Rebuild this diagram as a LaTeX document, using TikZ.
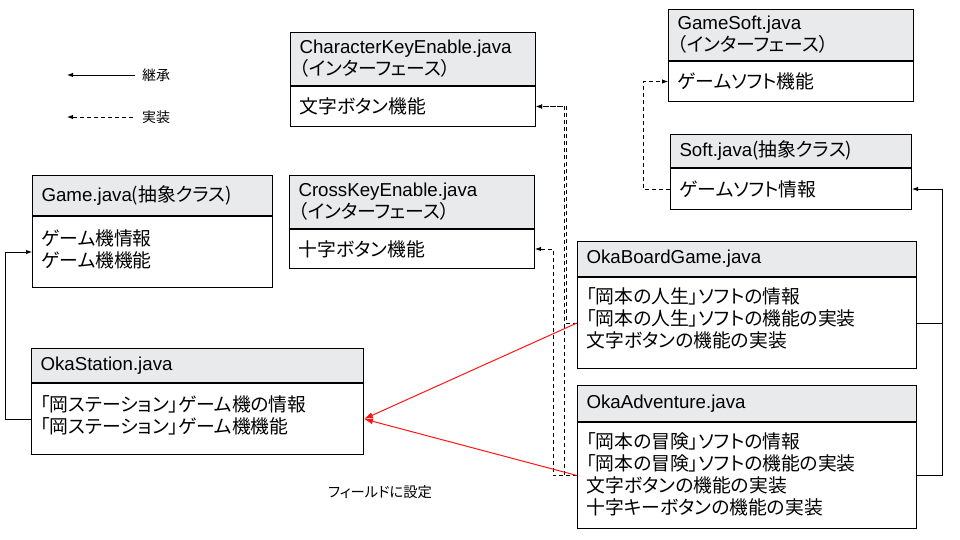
\documentclass[tikz,border=0pt]{standalone}
\usepackage{fontspec}
\setmainfont{Noto Sans CJK JP}[RawFeature={+palt}]
\newfontfamily\lat{Liberation Sans}[Scale=0.995]
\usetikzlibrary{arrows.meta}
\definecolor{hdrgray}{RGB}{232,234,235}
\definecolor{fieldred}{RGB}{255,20,20}
\begin{document}
\begin{tikzpicture}[x=1pt,y=-1pt,
  every node/.style={font=\fontsize{18.8pt}{22pt}\selectfont},
  hdr/.style={draw=black, line width=1pt, fill=hdrgray, anchor=north west, inner xsep=9pt, inner ysep=0pt, align=left},
  bdy/.style={draw=black, line width=1pt, fill=white, anchor=north west, inner xsep=9pt, inner ysep=0pt, align=left},
  inh/.style={draw=black, line width=0.9pt, -{Latex[length=6pt,width=4.5pt]}},
  impl/.style={inh, dash pattern=on 4pt off 3pt},
  field/.style={draw=fieldred, line width=1pt, -{Latex[length=9pt,width=6pt]}},
  legendtxt/.style={anchor=west, inner sep=0pt, font=\fontsize{14pt}{16pt}\selectfont},
  fieldtxt/.style={inner sep=0pt, font=\fontsize{14.3pt}{16pt}\selectfont}
]
\useasboundingbox (0,0) rectangle (960,540);

% Legend
\coordinate (l1s) at (135,75);
\coordinate (l1e) at (67,75);
\node[legendtxt] (l1) at (142,75) {継承};
\draw[inh] (l1s) -- (l1e);
\coordinate (l2s) at (133,117);
\coordinate (l2e) at (67,117);
\node[legendtxt] (l2) at (142,117) {実装};
\draw[impl] (l2s) -- (l2e);

% CharacterKeyEnable
\node[hdr, minimum height=53pt, text width=227pt] (ckh) at (290,32) {{\lat CharacterKeyEnable.java}\\（インターフェース）};
\node[bdy, minimum height=40pt, text width=227pt] (ckb) at (ckh.south west) {文字ボタン機能};

% CrossKeyEnable
\node[hdr, minimum height=53pt, text width=227pt] (xkh) at (289,175) {{\lat CrossKeyEnable.java}\\（インターフェース）};
\node[bdy, minimum height=39pt, text width=227pt] (xkb) at (xkh.south west) {十字ボタン機能};

% GameSoft
\node[hdr, minimum height=51pt, text width=227pt] (gsh) at (668,9) {{\lat GameSoft.java}\\（インターフェース）};
\node[bdy, minimum height=40pt, text width=227pt] (gsb) at (gsh.south west) {ゲームソフト機能};

% Soft
\node[hdr, minimum height=33pt, text width=223pt] (sh) at (670,134) {{\lat Soft.java}(抽象クラス)};
\node[bdy, minimum height=41pt, text width=223pt] (sb) at (sh.south west) {ゲームソフト情報};

% Game
\node[hdr, minimum height=40pt, text width=222pt] (gh) at (32,175) {{\lat Game.java}(抽象クラス)};
\node[bdy, minimum height=71pt, text width=222pt] (gb) at (gh.south west) {ゲーム機情報\\ゲーム機機能\\[-16pt]\mbox{}};

% OkaStation
\node[hdr, minimum height=34pt, text width=314pt] (osh) at (31,348) {{\lat OkaStation.java}};
\node[bdy, minimum height=71pt, text width=314pt] (osb) at (osh.south west) {「岡ステーション」ゲーム機の情報\\「岡ステーション」ゲーム機機能\\[-14pt]\mbox{}};

% OkaBoardGame
\node[hdr, minimum height=35pt, text width=321pt] (obgh) at (577,241) {{\lat OkaBoardGame.java}};
\node[bdy, minimum height=91pt, text width=321pt] (obgb) at (obgh.south west) {「岡本の人生」ソフトの情報\\「岡本の人生」ソフトの機能の実装\\文字ボタンの機能の実装\\[-11pt]\mbox{}};

% OkaAdventure
\node[hdr, minimum height=36pt, text width=321pt] (oah) at (577,385) {{\lat OkaAdventure.java}};
\node[bdy, minimum height=106pt, text width=321pt] (oab) at (oah.south west) {「岡本の冒険」ソフトの情報\\「岡本の冒険」ソフトの機能の実装\\文字ボタンの機能の実装\\十字キーボタンの機能の実装\\[-18pt]\mbox{}};

% Inheritance
\draw[inh] (osb.west) -- ++(-26,0) |- (gb.west);
\draw[inh] (oab.east) -- ++(25,0) |- (sb.east);
\draw[draw=black, line width=0.9pt] (obgb.east) -- ++(25,0);

% Implementation
\draw[impl] (sb.west) -- ++(-27,0) |- (gsb.west);
\draw[impl] (obgb.west) -- ++(-11,0) |- (ckb.east);
\draw[impl] (oab.west) -- ++(-13,0) |- (ckb.east);
\draw[impl] (oab.west) -- ++(-24,0) |- (xkb.east);

% Field
\draw[field] (obgb.west) -- (osb.east);
\draw[field] (oab.west) -- (osb.east);
\node[fieldtxt] (ft) at (380,492) {フィールドに設定};
\end{tikzpicture}
\end{document}
